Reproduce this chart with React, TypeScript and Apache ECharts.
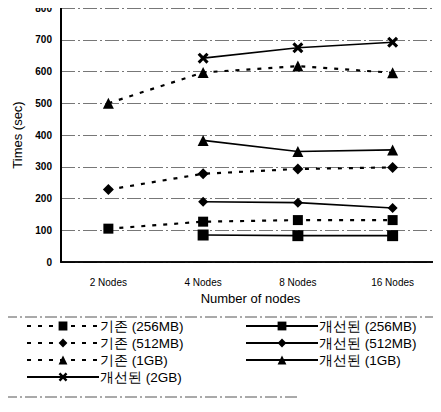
import React, { useEffect, useRef } from "react";
import * as echarts from "echarts";

const categories = ["2 Nodes", "4 Nodes", "8 Nodes", "16 Nodes"];
const yTicks = [0, 100, 200, 300, 400, 500, 600, 700, 800];

const oldS256: (number | null)[] = [105, 127, 132, 132];
const newS256: (number | null)[] = [null, 85, 83, 83];
const oldS512: (number | null)[] = [228, 278, 293, 298];
const newS512: (number | null)[] = [null, 190, 187, 170];
const oldS1G: (number | null)[] = [500, 597, 617, 596];
const newS1G: (number | null)[] = [null, 383, 348, 353];
const newS2G: (number | null)[] = [null, 642, 675, 692];

const names = {
  o256: "기존 (256MB)",
  n256: "개선된 (256MB)",
  o512: "기존 (512MB)",
  n512: "개선된 (512MB)",
  o1g: "기존 (1GB)",
  n1g: "개선된 (1GB)",
  n2g: "개선된 (2GB)",
};

const X_PATH =
  "path://M2,0 L5,3 L8,0 L10,2 L7,5 L10,8 L8,10 L5,7 L2,10 L0,8 L3,5 L0,2 Z";

const FONT = "'Liberation Sans', Arial, sans-serif";

export default function App() {
  const ref = useRef<HTMLDivElement>(null);
  useEffect(() => {
    if (!ref.current) return;
    const chart = echarts.init(ref.current, null, { renderer: "svg" });
    const dashed = { color: "#000", width: 2.2, type: [4, 7] as any };
    const solid = { color: "#000", width: 1.6, type: "solid" as any };
    const mk = (
      name: string,
      data: (number | null)[],
      symbol: string,
      size: number,
      ls: any
    ) => ({
      name,
      type: "line",
      data,
      symbol,
      symbolSize: size,
      showAllSymbol: true,
      connectNulls: false,
      itemStyle: { color: "#000", borderWidth: 0 },
      lineStyle: ls,
      emphasis: { disabled: true },
    });
    const legendCommon = {
      orient: "vertical" as const,
      itemWidth: 72,
      itemHeight: 11,
      itemGap: 3,
      textStyle: { fontFamily: FONT, fontSize: 13.5, color: "#000", padding: [0, 0, 0, -4] },
      inactiveColor: "#000",
      selectedMode: false,
    };
    chart.setOption({
      animation: false,
      backgroundColor: "#fff",
      grid: { left: 61, right: 1, top: 8, bottom: 150 },
      xAxis: [
        {
          type: "category",
          data: categories,
          boundaryGap: true,
          axisLine: { lineStyle: { color: "#000", width: 1.5 } },
          axisTick: { show: false },
          axisLabel: { color: "#000", fontFamily: FONT, fontSize: 10, margin: 15 },
          name: "Number of nodes",
          nameLocation: "middle",
          nameGap: 30,
          nameTextStyle: { color: "#000", fontFamily: FONT, fontSize: 13 },
        },
        {
          type: "category",
          data: categories,
          position: "top",
          axisLine: { lineStyle: { color: "#000", width: 1.5 } },
          axisTick: { show: false },
          axisLabel: { show: false },
        },
      ],
      yAxis: [
        {
          type: "value",
          min: 0,
          max: 800,
          interval: 100,
          axisLine: { show: true, lineStyle: { color: "#000", width: 2 } },
          axisTick: { show: false },
          axisLabel: {
            color: "#000",
            fontFamily: FONT,
            fontSize: 10,
            fontWeight: "bold",
            margin: 9,
            formatter: (v: number) => (yTicks.includes(v) ? String(v) : ""),
          },
          splitLine: {
            show: true,
            lineStyle: { color: "#777", width: 1, type: [14, 3, 2, 3] },
          },
          name: "Times (sec)",
          nameLocation: "middle",
          nameGap: 36,
          nameTextStyle: { color: "#000", fontFamily: FONT, fontSize: 13 },
        },
        {
          type: "value",
          min: 0,
          max: 800,
          interval: 100,
          position: "right",
          axisLine: { show: true, lineStyle: { color: "#aaa", width: 1, type: "dotted" } },
          axisTick: { show: false },
          axisLabel: { show: false },
          splitLine: { show: false },
        },
      ],
      legend: [
        {
          ...legendCommon,
          left: 21,
          top: 314,
          data: [names.o256, names.o512, names.o1g, names.n2g],
        },
        {
          ...legendCommon,
          left: 240,
          top: 314,
          data: [names.n256, names.n512, names.n1g],
        },
      ],
      graphic: [
        {
          type: "line",
          shape: { x1: 5, y1: 317, x2: 441, y2: 317 },
          style: { stroke: "#555", lineWidth: 1, lineDash: [12, 3, 2, 3] },
          silent: true,
        },
        {
          type: "line",
          shape: { x1: 5, y1: 397, x2: 300, y2: 397 },
          style: { stroke: "#555", lineWidth: 1, lineDash: [12, 3, 2, 3] },
          silent: true,
        },
      ],
      series: [
        mk(names.o256, oldS256, "rect", 10, dashed),
        mk(names.n256, newS256, "rect", 11, solid),
        mk(names.o512, oldS512, "diamond", 11, dashed),
        mk(names.n512, newS512, "diamond", 10, solid),
        mk(names.o1g, oldS1G, "triangle", 11, dashed),
        mk(names.n1g, newS1G, "triangle", 11, solid),
        mk(names.n2g, newS2G, X_PATH, 11, solid),
      ],
    });
    return () => chart.dispose();
  }, []);
  return <div ref={ref} style={{ width: 441, height: 412, margin: -8 }} />;
}
